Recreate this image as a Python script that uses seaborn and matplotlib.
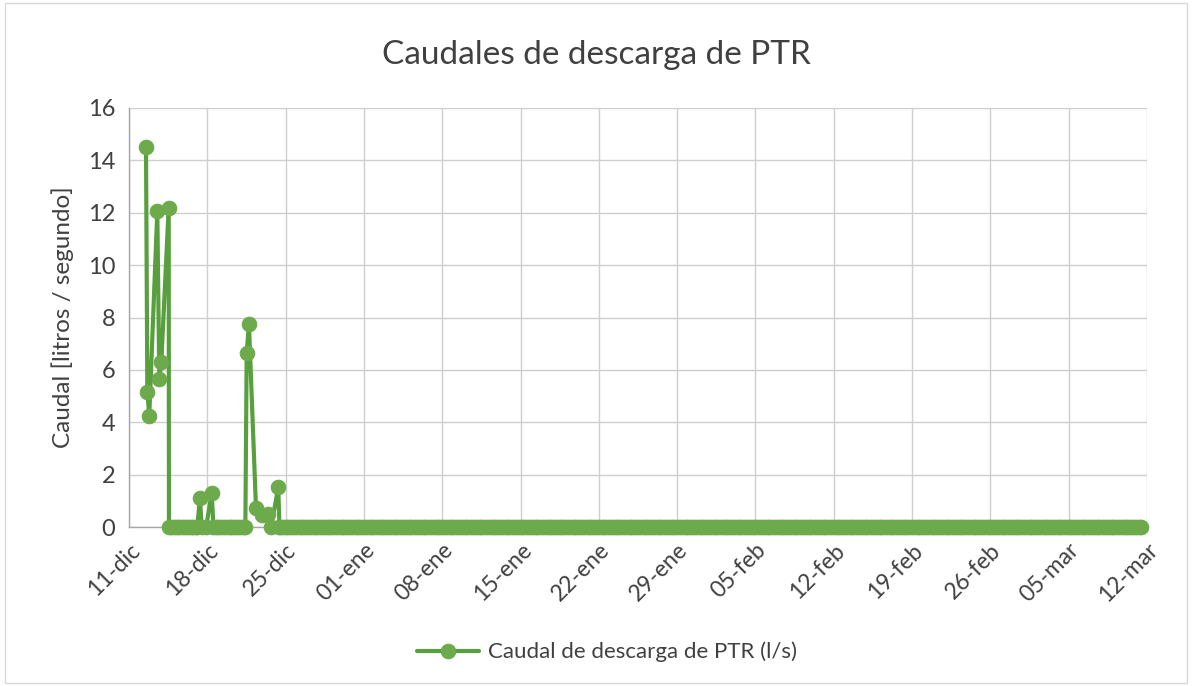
import matplotlib
matplotlib.use("Agg")
import matplotlib.pyplot as plt
import seaborn as sns
import pandas as pd
import numpy as np

# ---------------- data ----------------
start_date = "2018-12-11"
end_date = "2019-03-12"

# event clusters: offsets in days from 11-dic 00:00, and caudal values (l/s)
event_days_a = [1.52, 1.64, 1.81, 2.53, 2.71, 2.89, 3.55, 3.57]
event_vals_a = [14.5, 5.17, 4.24, 12.06, 5.64, 6.31, 12.2, 0.0]

event_days_b = [6.10, 6.34, 6.50, 6.90, 7.39, 7.55]
event_vals_b = [0.0, 1.10, 0.0, 0.0, 1.31, 0.0]

event_days_c = [10.40, 10.52, 10.72, 11.35, 11.90, 12.40, 12.70, 13.34, 13.45]
event_vals_c = [0.0, 6.65, 7.77, 0.74, 0.45, 0.50, 0.0, 1.51, 0.0]

# baseline readings (all 0 l/s), four per day, from 14-dic to 11-mar
baseline_first_day = 3.75
baseline_last_day = 90.50
baseline_per_day = 4

tick_labels = ["11-dic", "18-dic", "25-dic", "01-ene", "08-ene", "15-ene", "22-ene",
               "29-ene", "05-feb", "12-feb", "19-feb", "26-feb", "05-mar", "12-mar"]

title = "Caudales de descarga de PTR"
ylabel = "Caudal [litros / segundo]"
series_name = "Caudal de descarga de PTR (l/s)"

# ---------------- build the table ----------------
base = pd.Timestamp(start_date)
clusters = [(event_days_a, event_vals_a), (event_days_b, event_vals_b), (event_days_c, event_vals_c)]
days, vals = [], []
for d, v in clusters:
    days += d
    vals += v
n_base = int(round((baseline_last_day - baseline_first_day) * baseline_per_day)) + 1
for i in range(n_base):
    d = baseline_first_day + i / baseline_per_day
    if any(min(cd) <= d <= max(cd) for cd, _ in clusters):
        continue
    days.append(d)
    vals.append(0.0)

df = pd.DataFrame({"day": days, "caudal": vals}).sort_values("day")
df["fecha"] = base + pd.to_timedelta(df["day"], unit="D")

# ---------------- plot ----------------
sns.set_theme(style="white")
plt.rcParams["font.family"] = ["Lato", "DejaVu Sans"]

fig = plt.figure(figsize=(11.92, 6.86), dpi=100)
ax = fig.add_axes([129 / 1192, 1 - 527 / 686, (1147 - 129) / 1192, (527 - 108) / 686])

line_color = "#57A03D"
marker_color = "#6DAA4B"
sns.lineplot(data=df, x="fecha", y="caudal", ax=ax, color=line_color, linewidth=3.0,
             marker="o", markersize=10.5, markerfacecolor=marker_color,
             markeredgecolor=marker_color, label=series_name, sort=False, zorder=3,
             clip_on=False)

tick_dates = pd.date_range(start_date, end_date, freq="7D")
ax.set_xlim(pd.Timestamp(start_date), pd.Timestamp(end_date))
ax.set_xticks(tick_dates)
ax.set_xticklabels(tick_labels, rotation=45, ha="right", rotation_mode="anchor",
                   fontsize=16.5, color="#404040")
ax.set_ylim(0, 16)
ax.set_yticks(np.arange(0, 17, 2))
ax.tick_params(axis="y", labelsize=17, labelcolor="#404040", length=0, pad=10)
ax.tick_params(axis="x", length=0, pad=9)

ax.grid(True, color="#CFCFCF", linewidth=1.0)
ax.set_axisbelow(True)
for s in ["top", "right"]:
    ax.spines[s].set_visible(False)
for s in ["left", "bottom"]:
    ax.spines[s].set_color("#A6A6A6")
    ax.spines[s].set_linewidth(1.0)

ax.set_xlabel("")
ax.set_ylabel(ylabel, fontsize=17.5, color="#404040", labelpad=10)
fig.text(0.5, 1 - 55 / 686, title, ha="center", va="center", fontsize=24, color="#404040")

ax.legend(loc="center", bbox_to_anchor=((607 - 129) / (1147 - 129), (527 - 652) / (527 - 108)),
          frameon=False, fontsize=16, labelcolor="#404040", handlelength=2.8, handletextpad=0.4)

fig.patches.append(plt.Rectangle((0.004, 0.004), 0.992, 0.992, transform=fig.transFigure,
                                 fill=False, edgecolor="#D9D9D9", linewidth=1.0))

fig.savefig("out.png", dpi=100, facecolor="white")
